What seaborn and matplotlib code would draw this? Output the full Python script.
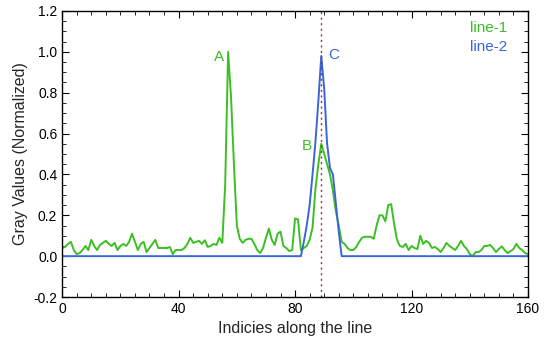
import numpy as np
import pandas as pd
import seaborn as sns
import matplotlib.pyplot as plt
from matplotlib.ticker import MultipleLocator

# line profiles (index 0..160)
line1 = [0.04, 0.045, 0.06, 0.07, 0.03, 0.01, 0.015, 0.03, 0.05, 0.03,
         0.08, 0.05, 0.03, 0.055, 0.065, 0.075, 0.06, 0.05, 0.065, 0.03,
         0.05, 0.06, 0.05, 0.07, 0.11, 0.07, 0.03, 0.06, 0.07, 0.02,
         0.04, 0.06, 0.08, 0.04, 0.04, 0.04, 0.04, 0.045, 0.01, 0.03,
         0.03, 0.03, 0.04, 0.06, 0.09, 0.065, 0.07, 0.075, 0.06, 0.078,
         0.045, 0.05, 0.06, 0.055, 0.09, 0.065, 0.35, 1.0, 0.78, 0.45,
         0.15, 0.085, 0.065, 0.08, 0.085, 0.085, 0.06, 0.03, 0.015, 0.04,
         0.09, 0.135, 0.08, 0.055, 0.11, 0.12, 0.05, 0.04, 0.025, 0.03,
         0.185, 0.18, 0.03, 0.04, 0.05, 0.08, 0.14, 0.33, 0.45, 0.55,
         0.5, 0.45, 0.4, 0.32, 0.22, 0.15, 0.07, 0.06, 0.04, 0.03,
         0.03, 0.045, 0.07, 0.09, 0.095, 0.095, 0.095, 0.085, 0.15, 0.2,
         0.2, 0.17, 0.25, 0.255, 0.16, 0.08, 0.05, 0.045, 0.06, 0.03,
         0.05, 0.04, 0.035, 0.1, 0.06, 0.075, 0.065, 0.04, 0.045, 0.035,
         0.02, 0.04, 0.065, 0.05, 0.04, 0.03, 0.05, 0.075, 0.05, 0.035,
         0.01, 0.0, 0.02, 0.02, 0.03, 0.05, 0.05, 0.055, 0.04, 0.02,
         0.035, 0.048, 0.03, 0.015, 0.025, 0.035, 0.06, 0.04, 0.03, 0.015,
         0.01]

# line-2 is zero except for the peak between 82 and 96
line2_peak_idx = [83, 84, 85, 86, 87, 88, 89, 90, 91, 92, 93, 94, 95]
line2_peak_val = [0.07, 0.15, 0.25, 0.4, 0.56, 0.76, 0.98, 0.82, 0.55,
                  0.43, 0.4, 0.26, 0.12]

marker_x = 89
labels = ['A', 'B', 'C']
label_x = [53.9, 84.2, 93.4]
label_y = [0.975, 0.54, 0.985]

green = '#3cbf22'
blue = '#3a66d6'

idx = np.arange(len(line1))
line2 = np.zeros(len(line1))
line2[line2_peak_idx] = line2_peak_val
df = pd.DataFrame({'index': idx, 'line-1': line1, 'line-2': line2})

sns.set_style('ticks')
plt.rcParams['font.family'] = ['Liberation Sans', 'DejaVu Sans']

fig, ax = plt.subplots(figsize=(5.5, 3.43), dpi=100)
fig.subplots_adjust(left=0.113, right=0.96, top=0.968, bottom=0.134)

sns.lineplot(data=df, x='index', y='line-1', color=green, lw=1.4, ax=ax)
sns.lineplot(data=df, x='index', y='line-2', color=blue, lw=1.4, ax=ax)
ax.axvline(marker_x, color='#a03028', lw=1, ls=(0, (1.5, 2.5)))

label_colors = [green, green, blue]
for t, x, y, c in zip(labels, label_x, label_y, label_colors):
    ax.text(x, y, t, color=c, fontsize=11, ha='center', va='center')

ax.text(0.955, 0.94, 'line-1', color=green, fontsize=11, ha='right',
        va='center', transform=ax.transAxes)
ax.text(0.955, 0.875, 'line-2', color=blue, fontsize=11, ha='right',
        va='center', transform=ax.transAxes)

ax.set_xlim(0, 160)
ax.set_ylim(-0.2, 1.2)
ax.xaxis.set_major_locator(MultipleLocator(40))
ax.xaxis.set_minor_locator(MultipleLocator(5))
ax.yaxis.set_major_locator(MultipleLocator(0.2))
ax.yaxis.set_minor_locator(MultipleLocator(0.05))
ax.yaxis.set_major_formatter(plt.FormatStrFormatter('%.1f'))
ax.tick_params(which='both', direction='in', top=True, right=True,
               labelsize=10, colors='black')
ax.tick_params(which='major', length=5)
ax.tick_params(which='minor', length=3)
for s in ax.spines.values():
    s.set_color('black')
    s.set_linewidth(1)

ax.set_xlabel('Indicies along the line', fontsize=11.5)
ax.set_ylabel('Gray Values (Normalized)', fontsize=11.5)

fig.savefig('out.png', dpi=100)
